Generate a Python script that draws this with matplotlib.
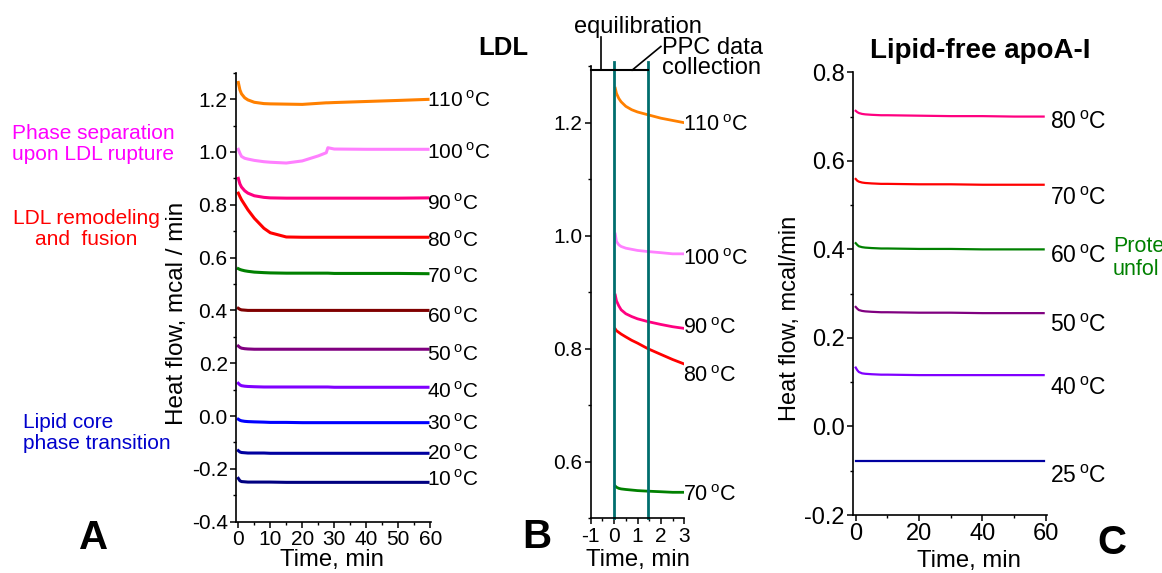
import matplotlib
matplotlib.use("Agg")
import matplotlib.pyplot as plt
from matplotlib.ticker import MultipleLocator

plt.rcParams['font.family'] = ['Liberation Sans', 'DejaVu Sans']
plt.rcParams['mathtext.fontset'] = 'custom'
plt.rcParams['mathtext.rm'] = 'Liberation Sans'
plt.rcParams['axes.unicode_minus'] = False

# ---- panel A: LDL, 60 min runs ----
t_a = [0, 0.5, 1, 2, 3, 5, 8, 10, 15, 20, 25, 27.5, 28, 30, 40, 50, 59.3]
temps_a = [110, 100, 90, 80, 70, 60, 50, 40, 30, 20, 10]
flow_a = {
    110: [1.263, 1.235, 1.22, 1.205, 1.197, 1.188, 1.183, 1.182, 1.181, 1.180, 1.184, 1.186, 1.186, 1.187, 1.191, 1.195, 1.199],
    100: [1.01, 0.995, 0.983, 0.976, 0.973, 0.968, 0.963, 0.961, 0.958, 0.966, 0.985, 0.997, 1.016, 1.011, 1.01, 1.01, 1.01],
    90: [0.900, 0.879, 0.867, 0.853, 0.844, 0.834, 0.828, 0.826, 0.825, 0.825, 0.825, 0.825, 0.825, 0.825, 0.825, 0.825, 0.826],
    80: [0.844, 0.831, 0.819, 0.800, 0.781, 0.749, 0.711, 0.694, 0.678, 0.677, 0.677, 0.677, 0.677, 0.677, 0.677, 0.677, 0.677],
    70: [0.558, 0.555, 0.553, 0.550, 0.548, 0.545, 0.543, 0.542, 0.541, 0.541, 0.541, 0.541, 0.541, 0.540, 0.540, 0.540, 0.539],
    60: [0.408, 0.404, 0.402, 0.401, 0.400, 0.400, 0.400, 0.400, 0.400, 0.400, 0.400, 0.400, 0.400, 0.400, 0.400, 0.400, 0.400],
    50: [0.265, 0.260, 0.257, 0.255, 0.254, 0.253, 0.253, 0.253, 0.253, 0.253, 0.253, 0.253, 0.253, 0.253, 0.253, 0.253, 0.253],
    40: [0.124, 0.118, 0.115, 0.113, 0.112, 0.111, 0.110, 0.110, 0.110, 0.110, 0.110, 0.110, 0.110, 0.109, 0.109, 0.109, 0.109],
    30: [-0.012, -0.016, -0.018, -0.020, -0.021, -0.022, -0.023, -0.024, -0.024, -0.025, -0.025, -0.025, -0.025, -0.025, -0.025, -0.025, -0.025],
    20: [-0.131, -0.136, -0.138, -0.139, -0.140, -0.140, -0.140, -0.141, -0.141, -0.141, -0.141, -0.141, -0.141, -0.141, -0.141, -0.141, -0.141],
    10: [-0.236, -0.245, -0.248, -0.249, -0.250, -0.250, -0.250, -0.250, -0.251, -0.251, -0.251, -0.251, -0.251, -0.251, -0.251, -0.251, -0.251],
}
label_y_a = [1.195, 0.999, 0.804, 0.667, 0.528, 0.377, 0.234, 0.093, -0.027, -0.141, -0.239]
colors_a = ['#FF8000', '#FF80FF', '#FF0080', '#FF0000', '#008000', '#800000',
            '#800080', '#8000FF', '#0000FF', '#0000A0', '#000080']

# ---- panel B: LDL, first 3 min ----
t_b = [0.05, 0.1, 0.2, 0.3, 0.5, 0.75, 1.0, 1.45, 2.0, 2.5, 3.0]
temps_b = [110, 100, 90, 80, 70]
flow_b = {
    110: [1.261, 1.252, 1.243, 1.237, 1.229, 1.223, 1.219, 1.214, 1.208, 1.204, 1.200],
    100: [1.003, 0.990, 0.984, 0.981, 0.978, 0.976, 0.974, 0.972, 0.970, 0.968, 0.968],
    90: [0.895, 0.885, 0.876, 0.869, 0.862, 0.857, 0.853, 0.848, 0.843, 0.839, 0.836],
    80: [0.835, 0.832, 0.829, 0.826, 0.821, 0.815, 0.810, 0.800, 0.790, 0.781, 0.773],
    70: [0.557, 0.555, 0.553, 0.552, 0.551, 0.550, 0.549, 0.548, 0.547, 0.546, 0.546],
}
label_y_b = [1.195, 0.958, 0.835, 0.751, 0.541]
colors_b = ['#FF8000', '#FF80FF', '#FF0080', '#FF0000', '#008000']
marks_b = [0, 1.45]  # equilibration end / data collection window

# ---- panel C: lipid-free apoA-I ----
t_c = [0, 0.5, 1, 2, 3, 5, 8, 10, 20, 30, 40, 50, 59.3]
temps_c = [80, 70, 60, 50, 40, 25]
flow_c = {
    80: [0.713, 0.710, 0.708, 0.706, 0.705, 0.704, 0.703, 0.703, 0.702, 0.701, 0.701, 0.700, 0.700],
    70: [0.559, 0.555, 0.553, 0.551, 0.550, 0.549, 0.548, 0.548, 0.547, 0.547, 0.546, 0.546, 0.546],
    60: [0.414, 0.410, 0.407, 0.405, 0.404, 0.403, 0.402, 0.402, 0.401, 0.401, 0.400, 0.400, 0.400],
    50: [0.270, 0.266, 0.263, 0.261, 0.260, 0.259, 0.258, 0.258, 0.257, 0.257, 0.256, 0.256, 0.256],
    40: [0.133, 0.127, 0.123, 0.120, 0.119, 0.118, 0.117, 0.117, 0.116, 0.116, 0.116, 0.116, 0.116],
    25: [-0.079, -0.079, -0.079, -0.079, -0.079, -0.079, -0.079, -0.079, -0.079, -0.079, -0.079, -0.079, -0.079],
}
label_y_c = [0.686, 0.516, 0.383, 0.227, 0.086, -0.114]
colors_c = ['#FF0080', '#FF0000', '#008000', '#800080', '#8000FF', '#0000A0']

W, H = 1162, 573
fig = plt.figure(figsize=(W / 100, H / 100), dpi=100)


def box(x0, y0, x1, y1):
    # pixel box -> figure fraction rect
    return [x0 / W, 1 - y1 / H, (x1 - x0) / W, (y1 - y0) / H]


def ftext(x, y, s, **kw):
    fig.text(x / W, 1 - y / H, s, **kw)


def deg(t):
    return f"{t}$\\,^{{\\rm o}}$C"


def style(ax, xmaj, xmin, ysize):
    for s in ['top', 'right']:
        ax.spines[s].set_visible(False)
    for s in ['left', 'bottom']:
        ax.spines[s].set_linewidth(1.2)
    ax.xaxis.set_major_locator(MultipleLocator(xmaj))
    ax.xaxis.set_minor_locator(MultipleLocator(xmin))
    ax.yaxis.set_major_locator(MultipleLocator(0.2))
    ax.yaxis.set_minor_locator(MultipleLocator(0.1))
    ax.tick_params(which='major', direction='out', length=4, width=1.1, labelsize=ysize, pad=2)
    ax.tick_params(which='minor', direction='out', length=2.5, width=1.0)


fmt1 = plt.FuncFormatter(lambda v, p: f"{v:.1f}".replace("-0.0", "0.0"))

# panel A
axA = fig.add_axes(box(236, 72.7, 430.7, 521.7))
for T, c, ly in zip(temps_a, colors_a, label_y_a):
    axA.plot(t_a, flow_a[T], color=c, lw=2.2)
    axA.text(59, ly, deg(T), fontsize=15, ha='left', va='center')
axA.set_xlim(-0.72, 60.15)
axA.set_ylim(-0.4, 1.3)
style(axA, 10, 5, 15)
axA.yaxis.set_major_formatter(fmt1)

# panel B
axB = fig.add_axes(box(590.7, 66.2, 684.3, 518.3))
for T, c, ly in zip(temps_b, colors_b, label_y_b):
    axB.plot(t_b, flow_b[T], color=c, lw=2.0)
    axB.text(2.95, ly, deg(T), fontsize=15.5, ha='left', va='center')
for xm in marks_b:
    axB.plot([xm, xm], [0.5, 1.307], color='#006E6E', lw=2.0, clip_on=False)
axB.plot([-1, 1.45], [1.293, 1.293], color='black', lw=1.5, clip_on=False)
axB.plot([-0.57, -0.57], [1.293, 1.352], color='black', lw=1.2, clip_on=False)
axB.plot([0.77, 2.0], [1.293, 1.335], color='black', lw=1.2, clip_on=False)
axB.set_xlim(-1, 3)
axB.set_ylim(0.5, 1.3)
style(axB, 1, 0.5, 15)
axB.yaxis.set_major_formatter(fmt1)

# panel C
axC = fig.add_axes(box(853.3, 72.3, 1046.5, 515))
for T, c, ly in zip(temps_c, colors_c, label_y_c):
    axC.plot(t_c, flow_c[T], color=c, lw=1.6)
    axC.text(61.3, ly, deg(T), fontsize=16.5, ha='left', va='center')
axC.set_xlim(-0.76, 60.2)
axC.set_ylim(-0.2, 0.8)
style(axC, 20, 10, 17)
axC.yaxis.set_major_formatter(fmt1)

# axis titles and annotations
ftext(176.7, 313.5, "Heat flow, mcal / min", fontsize=17.5, rotation=90, ha='center', va='center')
ftext(332, 560, "Time, min", fontsize=17.2, ha='center', va='center')
ftext(638, 560, "Time, min", fontsize=17.2, ha='center', va='center')
ftext(969, 561, "Time, min", fontsize=17.2, ha='center', va='center')
ftext(790, 318, "Heat flow, mcal/min", fontsize=17, rotation=90, ha='center', va='center')

ftext(93.5, 538, "A", fontsize=29, fontweight='bold', ha='center', va='center')
ftext(537, 537, "B", fontsize=29, fontweight='bold', ha='center', va='center')
ftext(1112, 543, "C", fontsize=29, fontweight='bold', ha='center', va='center')
ftext(503, 48, "LDL", fontsize=18.5, fontweight='bold', ha='center', va='center')
ftext(980, 51, "Lipid-free apoA-I", fontsize=20, fontweight='bold', ha='center', va='center')

ftext(12, 144, "Phase separation\nupon LDL rupture", fontsize=15, color='#FF00FF',
      ha='left', va='center', linespacing=1.15)
ftext(86, 229, "LDL remodeling\nand  fusion", fontsize=15, color='#FF0000',
      ha='center', va='center', linespacing=1.15)
ftext(22.7, 433, "Lipid core\nphase transition", fontsize=15, color='#0000CC',
      ha='left', va='center', linespacing=1.15)
# only the part inside the reference frame is visible there
ftext(1113, 258, "Prote\nunfol", fontsize=15.5, color='#008000',
      ha='left', va='center', linespacing=1.1)
ftext(638, 27, "equilibration", fontsize=17, ha='center', va='center')
ftext(662, 58, "PPC data\ncollection", fontsize=17, ha='left', va='center', linespacing=0.85)

fig.savefig("out.png", dpi=100)
